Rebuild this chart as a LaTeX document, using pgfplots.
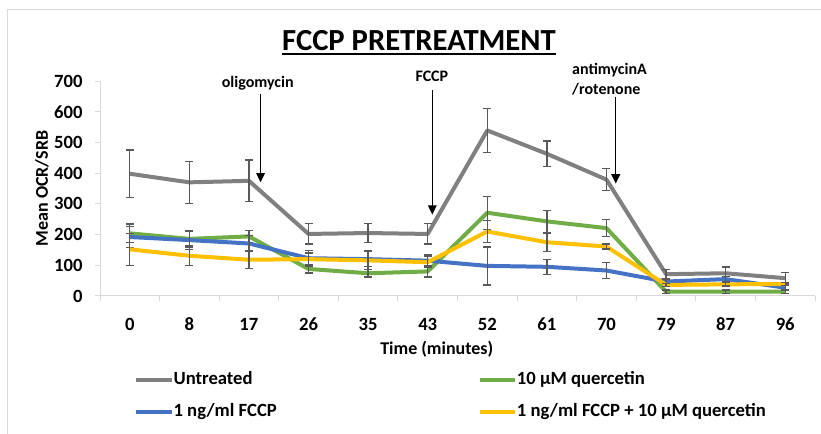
\documentclass[border=0pt]{standalone}
\usepackage{pgfplots}
\pgfplotsset{compat=1.18}
\usepackage{pgfplotstable}
\usepackage{fontspec}
\setmainfont{Carlito}
\usetikzlibrary{arrows.meta}

\definecolor{cgray}{RGB}{128,128,128}
\definecolor{cgreen}{RGB}{112,173,71}
\definecolor{cblue}{RGB}{68,114,196}
\definecolor{cgold}{RGB}{255,192,0}
\definecolor{errgray}{RGB}{89,89,89}
\definecolor{axgray}{RGB}{217,217,217}

% x = measurement index (0 ... 11), y = mean OCR/SRB, e = error
\pgfplotstableread{
x y e
0 398 77
1 370 68
2 375 68
3 202 33
4 205 30
5 202 33
6 539 71
7 463 42
8 379 36
9 71 16
10 74 20
11 58 19
}\untreated

\pgfplotstableread{
x y e
0 204 30
1 186 26
2 194 20
3 88 13
4 74 12
5 80 18
6 271 54
7 243 36
8 221 27
9 14 5
10 14 5
11 14 5
}\quercetin

\pgfplotstableread{
x y e
0 192 35
1 182 30
2 171 25
3 123 25
4 120 25
5 115 19
6 98 62
7 95 24
8 83 25
9 47 8
10 55 8
11 27 8
}\fccp

\pgfplotstableread{
x y e
0 152 52
1 131 32
2 118 28
3 120 20
4 116 30
5 110 18
6 210 35
7 175 30
8 161 8
9 36 5
10 38 5
11 39 5
}\combo

\pgfplotsset{
  errstyle/.style={
    error bars/.cd, y dir=both, y explicit,
    error bar style={errgray, line width=1pt},
    error mark options={errgray, line width=1pt, mark size=3pt, rotate=90}
  }
}

\begin{document}
\begin{tikzpicture}
\useasboundingbox (0,0) rectangle (615.75pt,325.5pt);
% chart frame
\draw[axgray, line width=0.75pt] (5.25pt,-2pt) -- (5.25pt,318pt) -- (620pt,318pt);

% title
\node[anchor=base, inner sep=0pt, font=\bfseries\fontsize{23}{27}\selectfont] (T) at (314.25pt,287.25pt) {FCCP PRETREATMENT};
\draw[line width=1.4pt] ([yshift=-2pt]T.base west) -- ([yshift=-2pt]T.base east);

\begin{axis}[
  at={(75pt,103.5pt)}, anchor=south west,
  scale only axis, width=536.25pt, height=161.25pt,
  xmin=-0.5, xmax=11.5, ymin=0, ymax=700,
  xtick={0,...,11},
  xticklabels={0,8,17,26,35,43,52,61,70,79,87,96},
  minor xtick={-0.5,0.5,...,11.5},
  ytick={0,100,...,700},
  axis x line*=bottom, axis y line*=left,
  axis line style={axgray, line width=0.75pt},
  tick align=outside,
  major x tick style={draw=none},
  minor x tick style={axgray, line width=0.75pt},
  major y tick style={axgray, line width=0.75pt},
  major tick length=3.5pt, minor tick length=4pt,
  clip=false,
  /pgf/number format/assume math mode=true,
  ticklabel style={font=\bfseries\fontsize{14}{16}\selectfont},
  xticklabel style={yshift=-9.5pt},
  yticklabel style={xshift=-6pt},
  xlabel={Time (minutes)},
  ylabel={Mean OCR/SRB},
  label style={font=\bfseries\fontsize{13.5}{16}\selectfont},
  xlabel style={at={(rel axis cs:0.471,-0.2465)}, anchor=center},
  ylabel style={at={(rel axis cs:-0.081,0.5)}, anchor=center},
  legend columns=2,
  legend cell align=left,
  legend style={draw=none, fill=none, inner sep=0pt,
    at={(rel axis cs:0.0475,-0.463)}, anchor=west,
    font=\bfseries\fontsize{14}{16}\selectfont,
    nodes={inner sep=0pt, text height=10pt, text depth=3pt},
    row sep=11pt,
    /tikz/every even column/.append style={column sep=0pt}},
  legend image code/.code={\draw[#1] (0pt,0pt) -- (26.5pt,0pt);},
]
\addplot[cgray, line width=3pt, line join=round, errstyle] table[x=x, y=y, y error=e] {\untreated};
\addlegendentry{\makebox[228pt][l]{Untreated}}
\addplot[cgreen, line width=3pt, line join=round, errstyle] table[x=x, y=y, y error=e] {\quercetin};
\addlegendentry{10 µM quercetin}
\addplot[cblue, line width=3pt, line join=round, errstyle] table[x=x, y=y, y error=e] {\fccp};
\addlegendentry{1 ng/ml FCCP}
\addplot[cgold, line width=3pt, line join=round, errstyle] table[x=x, y=y, y error=e] {\combo};
\addlegendentry{1 ng/ml FCCP + 10 µM quercetin}

% injection markers
\draw[-{Triangle[length=7pt, width=6.5pt]}, line width=1pt] (axis cs:2.195,657) -- (axis cs:2.195,370);
\node[font=\bfseries\fontsize{12}{14}\selectfont] at (axis cs:2.148,693) {oligomycin};
\draw[-{Triangle[length=7pt, width=6.5pt]}, line width=1pt] (axis cs:5.077,670) -- (axis cs:5.077,265);
\node[font=\bfseries\fontsize{12}{14}\selectfont] at (axis cs:5.07,716) {FCCP};
\draw[-{Triangle[length=7pt, width=6.5pt]}, line width=1pt] (axis cs:8.156,647) -- (axis cs:8.156,366);
\node[font=\bfseries\fontsize{12}{14}\selectfont, anchor=west, inner sep=0pt] at (axis cs:7.42,736) {antimycinA};
\node[font=\bfseries\fontsize{12}{14}\selectfont, anchor=west, inner sep=0pt] at (axis cs:7.42,672) {/rotenone};
\end{axis}
\end{tikzpicture}
\end{document}
